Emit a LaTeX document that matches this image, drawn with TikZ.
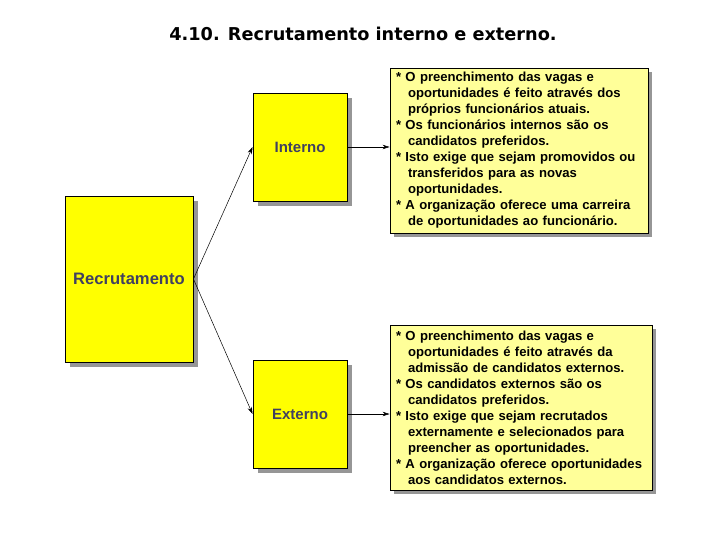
\documentclass[tikz,border=0pt]{standalone}
\usepackage{fontspec}
\setmainfont{Liberation Sans}
\newfontfamily\titlefont{DejaVu Sans}
\usepackage{tikz}
\usetikzlibrary{arrows.meta, shadows}
\definecolor{boxyellow}{RGB}{255, 255, 0}
\definecolor{infoyellow}{RGB}{255, 255, 153}
\definecolor{shadowgray}{RGB}{150, 150, 150}
\definecolor{labelnavy}{RGB}{64, 64, 96}

\tikzset{
  mainbox/.style={draw=black, fill=boxyellow, line width=0.9pt,
    font=\bfseries\fontsize{15}{18}\selectfont, text=labelnavy,
    drop shadow={shadow xshift=5pt, shadow yshift=-5pt, fill=shadowgray, opacity=1}},
  infobox/.style={draw=black, fill=infoyellow, line width=0.9pt,
    font=\bfseries\fontsize{13.1}{16}\selectfont, align=left,
    inner xsep=6pt, minimum height=165pt,
    drop shadow={shadow xshift=4pt, shadow yshift=-4pt, fill=shadowgray, opacity=1}},
  link/.style={black, line width=0.5pt, -{Stealth[length=7pt, width=4.5pt]}}
}
\newcommand{\ind}{\hspace*{12pt}}

\begin{document}
\begin{tikzpicture}[x=1pt, y=-1pt]
		\useasboundingbox (0,0) rectangle (720,540);
		\def\sw{94}   % side box width
		\def\sh{108}  % side box height

		% --- title ---
		\node[font=\titlefont\bfseries\fontsize{17.7}{20}\selectfont] (title) at (363, 34)
			{4.10. Recrutamento interno e externo.};

		% --- yellow boxes ---
		\node[mainbox, minimum width=128pt, minimum height=166pt,
			font=\bfseries\fontsize{16.6}{18}\selectfont] (recr) at (129, 279) {Recrutamento};
		\node[mainbox, minimum width=\sw pt, minimum height=\sh pt] (interno) at (300, 147) {Interno};
		\node[mainbox, minimum width=\sw pt, minimum height=\sh pt] (externo) at (300, 414) {Externo};

		% --- description boxes ---
		\node[infobox, text width=246pt] (infoint) at (519, 150.5) {%
			* O preenchimento das vagas e\\
			\ind oportunidades é feito através dos\\
			\ind próprios funcionários atuais.\\{}%
			* Os funcionários internos são os\\
			\ind candidatos preferidos.\\{}%
			* Isto exige que sejam promovidos ou\\
			\ind transferidos para as novas\\
			\ind oportunidades.\\{}%
			* A organização oferece uma carreira\\
			\ind de oportunidades ao funcionário.};
		\node[infobox, text width=250pt] (infoext) at (521, 407.5) {%
			* O preenchimento das vagas e\\
			\ind oportunidades é feito através da\\
			\ind admissão de candidatos externos.\\{}%
			* Os candidatos externos são os\\
			\ind candidatos preferidos.\\{}%
			* Isto exige que sejam recrutados\\
			\ind externamente e selecionados para\\
			\ind preencher as oportunidades.\\{}%
			* A organização oferece oportunidades\\
			\ind aos candidatos externos.};

		% --- connectors ---
		\draw[link] (recr.east) -- (interno.west);
		\draw[link] (recr.east) -- (externo.west);
		\draw[link] (interno.east) -- (interno.east -| infoint.west);
		\draw[link] (externo.east) -- (externo.east -| infoext.west);
	\end{tikzpicture}
\end{document}
